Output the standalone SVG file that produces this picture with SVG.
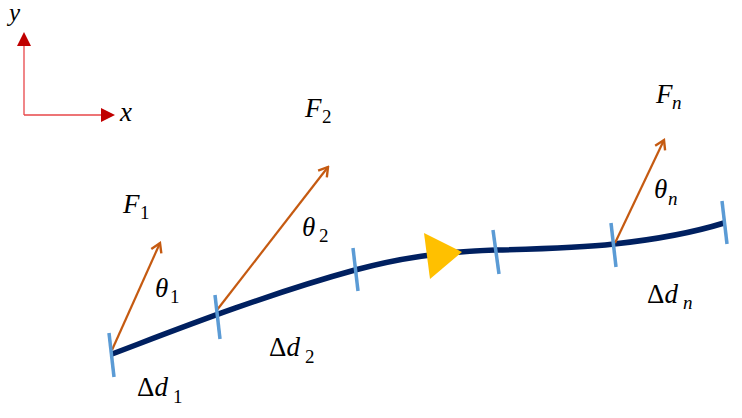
<svg xmlns="http://www.w3.org/2000/svg" width="742" height="418" viewBox="0 0 742 418">
<defs>
<marker id="ob" viewBox="0 0 14 14" refX="12" refY="7" markerWidth="14" markerHeight="14" markerUnits="userSpaceOnUse" orient="auto">
<path d="M3,1.5 L12,7 L3,12.5" fill="none" stroke="#C55A11" stroke-width="2.4" stroke-linejoin="miter"/>
</marker>
</defs>
<style>
.t{font-family:"Liberation Serif","DejaVu Serif",serif;font-size:27px;fill:#000}
.i{font-style:italic}
.s{font-size:19px}
.tick{stroke:#5B9BD5;stroke-width:3.5;fill:none}
.force{stroke:#C55A11;stroke-width:2.2;fill:none;marker-end:url(#ob)}
</style>
<rect width="742" height="418" fill="#fff"/>
<g id="axes">
<path d="M24,115 V45 M24,115 H101" stroke="#E8474A" stroke-width="1.3" fill="none"/>
<polygon points="24,32 17,46 31,46" fill="#C00000"/>
<polygon points="115,115 101,108 101,122" fill="#C00000"/>
<text class="t i" x="9" y="21" style="font-size:25px">y</text>
<text class="t i" x="120" y="121">x</text>
</g>
<g id="connectors">
<path id="path" d="M112,354 C160,336 260,296 355,270 C400,258 440,252 495,250 C540,249 580,248 614,244 C660,239 695,232 724,223" stroke="#002060" stroke-width="5.5" fill="none"/>
<line class="force" x1="112" y1="350" x2="160" y2="243"/>
<line class="force" x1="217" y1="310" x2="328" y2="167"/>
<line class="force" x1="615" y1="243" x2="664" y2="140"/>
</g>
<g id="ticks">
<line class="tick" x1="109" y1="333" x2="114" y2="377"/>
<line class="tick" x1="215" y1="295" x2="220" y2="339"/>
<line class="tick" x1="353" y1="248" x2="358" y2="291"/>
<line class="tick" x1="493" y1="230" x2="499" y2="274"/>
<line class="tick" x1="611" y1="223" x2="616" y2="267"/>
<line class="tick" x1="722" y1="201" x2="727" y2="244"/>
</g>
<g id="direction">
<polygon points="424,233 430,279 462,252" fill="#FFC000"/>
</g>
<g id="labels">
<text class="t" x="123" y="213"><tspan class="i">F</tspan><tspan class="s" x="140" y="219">1</tspan></text>
<text class="t" x="305" y="117"><tspan class="i">F</tspan><tspan class="s" x="322" y="123">2</tspan></text>
<text class="t" x="656" y="103"><tspan class="i">F</tspan><tspan class="s i" x="672" y="109">n</tspan></text>
<text class="t" x="155" y="297"><tspan class="i">θ</tspan><tspan class="s" x="170" y="303">1</tspan></text>
<text class="t" x="302" y="236"><tspan class="i">θ</tspan><tspan class="s" x="319" y="242">2</tspan></text>
<text class="t" x="654" y="198"><tspan class="i">θ</tspan><tspan class="s i" x="668" y="205">n</tspan></text>
<text class="t" x="137" y="396">Δ<tspan class="i">d</tspan><tspan class="s" x="173" y="403">1</tspan></text>
<text class="t" x="269" y="356">Δ<tspan class="i">d</tspan><tspan class="s" x="305" y="363">2</tspan></text>
<text class="t" x="647" y="303">Δ<tspan class="i">d</tspan><tspan class="s i" x="683" y="309">n</tspan></text>
</g>
</svg>
